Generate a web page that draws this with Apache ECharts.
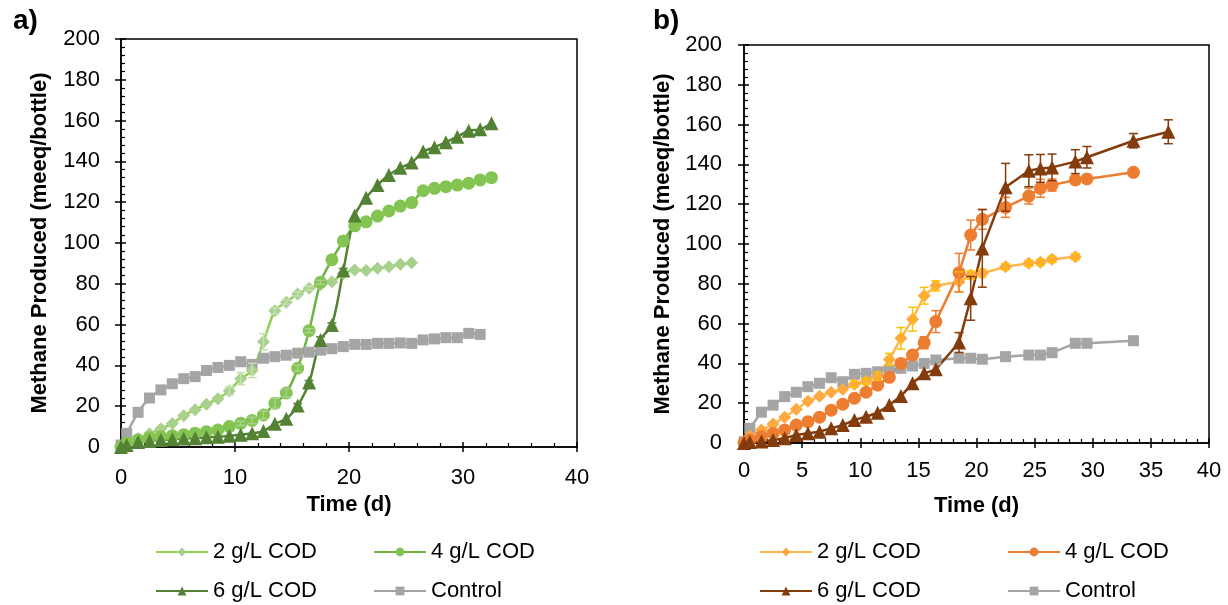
<!DOCTYPE html>
<html><head><meta charset="utf-8">
<script src="https://cdn.jsdelivr.net/npm/echarts@6/dist/echarts.min.js"></script>
<style>html,body{margin:0;padding:0;background:#fff}#c{width:1228px;height:605px}</style>
</head><body><div id="c"></div>
<script>
// ---------- Panel a data ----------
const timeA = [0,0.5,1.5,2.5,3.5,4.5,5.5,6.5,7.5,8.5,9.5,10.5,11.5,12.5,13.5,14.5,15.5,16.5,17.5,18.5,19.5,20.5,21.5,22.5,23.5,24.5,25.5,26.5,27.5,28.5,29.5,30.5,31.5,32.5];
const a2g = [0,2,4,6.5,9,11.5,15.3,18.3,21,23.7,27.5,33.5,37.5,51.6,66.8,71,75,77.8,79.5,81,85,86.8,86.5,87.6,88.4,89.6,90.3];
const a4g = [0,2,3.5,4.5,5,5.5,6,6.8,7.5,8.3,10,11.6,13,15.7,21.4,26.5,38.6,57,80.7,91.8,101,108.4,110.4,113.2,115.7,118.1,119.8,125.6,126.8,127.6,128.4,129.3,130.9,132];
const a6g = [0,1,2.5,3,3.4,3.8,4.2,4.3,4.8,5,5.5,6,6.7,7.8,11.4,13.8,20.3,31.6,52.5,59.8,86.5,113.5,122.2,128.4,133.3,136.9,139.4,144.8,146.9,149.4,152.1,155,155.7,158.7];
const aCtrl = [1,6.7,17,24,28,31,33.5,34.5,37.5,39,40,41.8,40.5,43.5,44.3,45,46,46.5,47.5,48.2,49.2,50.3,50.3,50.8,50.8,51,50.8,52.5,53,53.6,53.6,55.7,55.2];
const errA2 = [0,0,0,0,0,0,0,0,0,0,2,3,3.5,4,1.5,1,1,1,0,0,0,0,0,0,0,0,0];
const errA4 = [0,0,0,0,0,0,0,0,0,0,0,1,1.5,2,2.5,2,1.5,1,1,0,0,0,0,0,0,0,0,0,0,0,0,0,0,0];
const errA6 = [0,0,0,0,0,0,0,0,0,0,0,0,0,0,0,0,1,1,1.5,1,1,0,0,0,0,0,0,0,0,0,0,0,0,0];

// ---------- Panel b data ----------
const timeB = [0,0.5,1.5,2.5,3.5,4.5,5.5,6.5,7.5,8.5,9.5,10.5,11.5,12.5,13.5,14.5,15.5,16.5,18.5,19.5,20.5,22.5,24.5,25.5,26.5,28.5,29.5,33.5,36.5];
const b2g = [0.5,3.5,6.5,9.5,13,17,21,23.5,25.5,27,29.5,31,33.5,42,52.6,62.2,74,79,81,84.4,85.3,88.6,90.3,90.8,92.3,93.6];
const b4g = [0,1.5,3.2,4.9,6.5,9,10.7,13,16.5,19.5,22.5,25.5,29.1,33,40,44.2,50.4,61,85.6,104.5,112.4,118.4,124.1,128,129.6,132.2,132.7,136];
const b6g = [0,0.5,0.7,1.5,2.4,4,4.9,5.7,7.4,9,11.6,13.2,15.2,19.1,23.6,30,35,37,50.5,72.7,97.8,128.5,136.8,138,138.5,141.4,143.6,151.9,156.4];
const bCtrl = [0.6,7.4,15.5,19,23.3,25.5,28.3,30,32.8,30.8,34.5,35,35.8,36.7,37.5,38.7,40,41.7,42.6,42.6,42.1,43.4,44.2,44.2,45.4,50.1,50.1,51.4];
const errB2 = [0,0,0,0,0,0,0,0,0,0,1.5,1.5,2,3,5.4,6,4.2,2.5,5,2,2,1.5,1.5,1.5,1.5,1.5];
const errB4 = [0,0,0,0,0,0,0,0,0,0,0,0,0,0,2,2,3,5.5,9.7,7.5,5,5,4,4.5,3,2,1.5,1.5];
const errB6 = [0,0,0,0,0,0,0,0,0,0,0,0,0,0,0,0,0,0,5,11,19.5,12,8,7,6.7,6,5.4,3.6,6];

const legendLabels = {a2:'2 g/L COD', a4:'4 g/L COD', a6:'6 g/L COD', aC:'Control',
                      b2:'2 g/L COD', b4:'4 g/L COD', b6:'6 g/L COD', bC:'Control'};
const yTitle = 'Methane Produced (meeq/bottle)';
const xTitle = 'Time (d)';

// ---------- helpers ----------
const FONT = '"Liberation Sans", Arial, sans-serif';
const FS = 22;
function pairs(t, v){ return v.map((y,i)=>[t[i], y]); }
function errData(t, v, e){ const out=[]; v.forEach((y,i)=>{ if(e[i]>0) out.push([t[i], y-e[i], y+e[i]]); }); return out; }
function errRender(color){
  return function(params, api){
    const x = api.value(0), lo = api.value(1), hi = api.value(2);
    const p1 = api.coord([x, hi]), p2 = api.coord([x, lo]);
    const w = 4.5, style = {stroke: color, lineWidth: 1.5};
    return {type:'group', children:[
      {type:'line', shape:{x1:p1[0],y1:p1[1],x2:p2[0],y2:p2[1]}, style},
      {type:'line', shape:{x1:p1[0]-w,y1:p1[1],x2:p1[0]+w,y2:p1[1]}, style},
      {type:'line', shape:{x1:p2[0]-w,y1:p2[1],x2:p2[0]+w,y2:p2[1]}, style}
    ]};
  };
}
function lineSeries(name, xi, t, v, sym, size, lineColor, markColor, smooth){
  return {name, type:'line', xAxisIndex:xi, yAxisIndex:xi, data:pairs(t,v), symbol:sym, symbolSize:size,
    showSymbol:true, smooth: smooth, z:3,
    lineStyle:{color:lineColor, width:2.5}, itemStyle:{color:markColor, borderWidth:0}};
}
function errSeries(xi, t, v, e, color){
  return {type:'custom', xAxisIndex:xi, yAxisIndex:xi, data:errData(t,v,e), renderItem:errRender(color),
    encode:{x:0, y:[1,2]}, z:4, silent:true};
}
const labelStyle = {color:'#000', fontSize:FS, fontFamily:FONT};
function mainX(gi, interval, margin, gap){
  return {type:'value', gridIndex:gi, min:0, max:40, interval, position:'bottom',
    name:xTitle, nameLocation:'middle', nameGap:gap,
    nameTextStyle:{color:'#000', fontSize:FS, fontWeight:'bold', fontFamily:FONT},
    axisLine:{onZero:false, lineStyle:{color:'#000', width:1.5}},
    axisTick:{inside:true, length:5, lineStyle:{color:'#000', width:1.5}},
    minorTick:{show:true, splitNumber:5, length:4, lineStyle:{color:'#000', width:1.2}},
    axisLabel:Object.assign({margin}, labelStyle), splitLine:{show:false}};
}
function outX(gi, interval){
  return {type:'value', gridIndex:gi, min:0, max:40, interval, position:'bottom',
    axisLine:{show:false, onZero:false}, axisTick:{show:true, inside:false, length:5, lineStyle:{color:'#000', width:1.5}},
    axisLabel:{show:false}, splitLine:{show:false}};
}
function mainY(gi, margin, gap){
  return {type:'value', gridIndex:gi, min:0, max:200, interval:20, position:'left',
    name:yTitle, nameLocation:'middle', nameGap:gap,
    nameTextStyle:{color:'#000', fontSize:FS, fontWeight:'bold', fontFamily:FONT},
    axisLine:{onZero:false, lineStyle:{color:'#000', width:1.5}},
    axisTick:{inside:true, length:5, lineStyle:{color:'#000', width:1.5}},
    minorTick:{show:true, splitNumber:5, length:4, lineStyle:{color:'#000', width:1.2}},
    axisLabel:Object.assign({margin}, labelStyle), splitLine:{show:false}};
}
function outY(gi){
  return {type:'value', gridIndex:gi, min:0, max:200, interval:20, position:'left',
    axisLine:{show:false, onZero:false}, axisTick:{show:true, inside:false, length:6, lineStyle:{color:'#000', width:1.5}},
    axisLabel:{show:false}, splitLine:{show:false}};
}
function legendItem(name, left, top){
  return {data:[name], left, top, orient:'horizontal', padding:0, itemWidth:52, itemHeight:11,
    formatter:(n)=>legendLabels[n], textStyle:{color:'#000', fontSize:FS, fontFamily:FONT, padding:[0,0,0,0]},
    selectedMode:false};
}

const C = {a2l:'#92D050', a2m:'#A9D18E', a2e:'#C5E0B4', a4l:'#6FB440', a4m:'#84C453', a4e:'#A9D18E', a6:'#548235',
           ctrl:'#A5A5A5', b2l:'#FFB84D', b2m:'#FFA940', b2e:'#FFC000', b4:'#ED7D31', b6:'#843C0C'};

const option = {
  backgroundColor:'#fff',
  animation:false,
  title:[
    {text:'a)', left:8, top:2, textStyle:{fontSize:28, fontWeight:'bold', color:'#000', fontFamily:FONT}},
    {text:'b)', left:648, top:2, textStyle:{fontSize:28, fontWeight:'bold', color:'#000', fontFamily:FONT}}
  ],
  grid:[
    {left:121, top:39, width:456, height:408, show:true, borderColor:'#000', borderWidth:1.5, backgroundColor:'transparent'},
    {left:744, top:45, width:465, height:398, show:true, borderColor:'#000', borderWidth:1.5, backgroundColor:'transparent'}
  ],
  xAxis:[ mainX(0,10,20,45), mainX(1,5,17,52), outX(0,10), outX(1,5) ],
  yAxis:[ mainY(0,21,70), mainY(1,22,70), outY(0), outY(1) ],
  legend:[
    legendItem('a2',155,541), legendItem('a4',373,541), legendItem('a6',155,580), legendItem('aC',373,580),
    legendItem('b2',759,541), legendItem('b4',1007,541), legendItem('b6',759,580), legendItem('bC',1007,580)
  ],
  series:[
    lineSeries('aC',0,timeA,aCtrl,'rect',11,C.ctrl,C.ctrl,0.3),
    lineSeries('a2',0,timeA,a2g,'diamond',13,C.a2l,C.a2m,0.3),
    lineSeries('a4',0,timeA,a4g,'circle',13,C.a4l,C.a4m,0.3),
    lineSeries('a6',0,timeA,a6g,'triangle',14,C.a6,C.a6,0.3),
    errSeries(0,timeA,a2g,errA2,C.a2e),
    errSeries(0,timeA,a4g,errA4,C.a4e),
    errSeries(0,timeA,a6g,errA6,C.a6),
    lineSeries('bC',1,timeB,bCtrl,'rect',11,C.ctrl,C.ctrl,false),
    lineSeries('b2',1,timeB,b2g,'diamond',13,C.b2l,C.b2m,false),
    lineSeries('b4',1,timeB,b4g,'circle',13,C.b4,C.b4,false),
    lineSeries('b6',1,timeB,b6g,'triangle',14,C.b6,C.b6,false),
    errSeries(1,timeB,b2g,errB2,C.b2e),
    errSeries(1,timeB,b4g,errB4,C.b4),
    errSeries(1,timeB,b6g,errB6,C.b6)
  ]
};
const chart = echarts.init(document.getElementById('c'), null, {renderer:'canvas'});
chart.setOption(option);
</script>
</body></html>
